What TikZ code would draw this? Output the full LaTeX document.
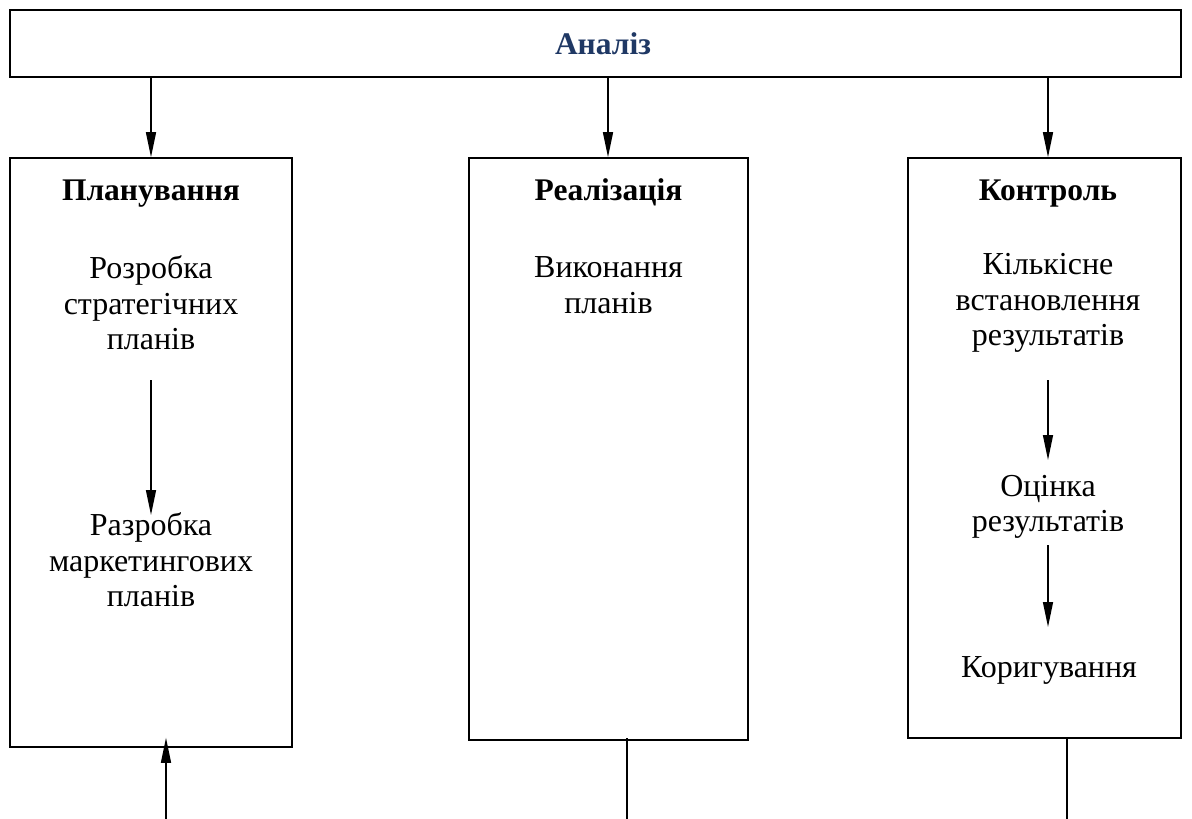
\documentclass[tikz,border=0pt]{standalone}
\usepackage{fontspec}
\setmainfont{Liberation Serif}
\usetikzlibrary{arrows.meta}
\definecolor{navy}{HTML}{1F3864}
\begin{document}
\begin{tikzpicture}[x=1pt,y=-1pt,
  box/.style={draw,line width=1.6pt,inner sep=0pt},
  head/.style={font=\fontsize{31.5}{35}\selectfont\bfseries,inner sep=0pt,anchor=base},
  txt/.style={font=\fontsize{32}{35.5}\selectfont,align=center,inner sep=0pt},
  arr/.style={line width=1.4pt,-{Triangle[length=25pt,width=10pt]}},
  ln/.style={line width=1.4pt}]
\useasboundingbox (0,0) rectangle (1192,819);
% frames
\node[box,minimum width=1171pt,minimum height=67pt] (an) at (595.5,43.5) {};
\node[box,minimum width=282pt,minimum height=589pt] (pl) at (151,452.5) {};
\node[box,minimum width=279pt,minimum height=582pt] (re) at (608.5,449) {};
\node[box,minimum width=273pt,minimum height=580pt] (ko) at (1044.5,448) {};
% titles
\node[head,text=navy] (tan) at (603,54) {Аналіз};
\node[head] (tpl) at (151,200) {Планування};
\node[head] (tre) at (608.5,200) {Реалізація};
\node[head] (tko) at (1048,200) {Контроль};
% texts
\node[txt] (p1) at (151,303) {Розробка\\стратегічних\\планів};
\node[txt] (p2) at (151,560) {Разробка\\маркетингових\\планів};
\node[txt] (r1) at (608.5,285) {Виконання\\планів};
\node[txt] (k1) at (1048,303) {Кількісне\\встановлення\\результатів};
\node[txt] (k2) at (1048,507) {Оцінка\\результатів};
\node[txt] (k3) at (1049,670) {Коригування};
% connectors from the top frame
\draw[arr] (pl.north |- an.south) -- (pl.north);
\draw[arr] ([xshift=-0.5pt]re.north |- an.south) -- ([xshift=-0.5pt]re.north);
\draw[arr] ([xshift=3.5pt]ko.north |- an.south) -- ([xshift=3.5pt]ko.north);
% connectors inside the frames
\coordinate (a1) at (151,380);
\coordinate (a2) at (151,515);
\draw[arr] (a1) -- (a2);
\coordinate (c1) at (1048,380);
\coordinate (c2) at (1048,460);
\draw[arr] (c1) -- (c2);
\coordinate (c3) at (1048,545);
\coordinate (c4) at (1048,627);
\draw[arr] (c3) -- (c4);
% connectors below
\coordinate (b1) at (166,819);
\draw[arr] (b1) -- ([yshift=10pt]b1 |- pl.south);
\coordinate (b2) at (627,819);
\draw[ln] (b2) -- ([yshift=3pt]b2 |- re.south);
\coordinate (b3) at (1067,819);
\draw[ln] (b3) -- ([yshift=1pt]b3 |- ko.south);
\end{tikzpicture}
\end{document}
